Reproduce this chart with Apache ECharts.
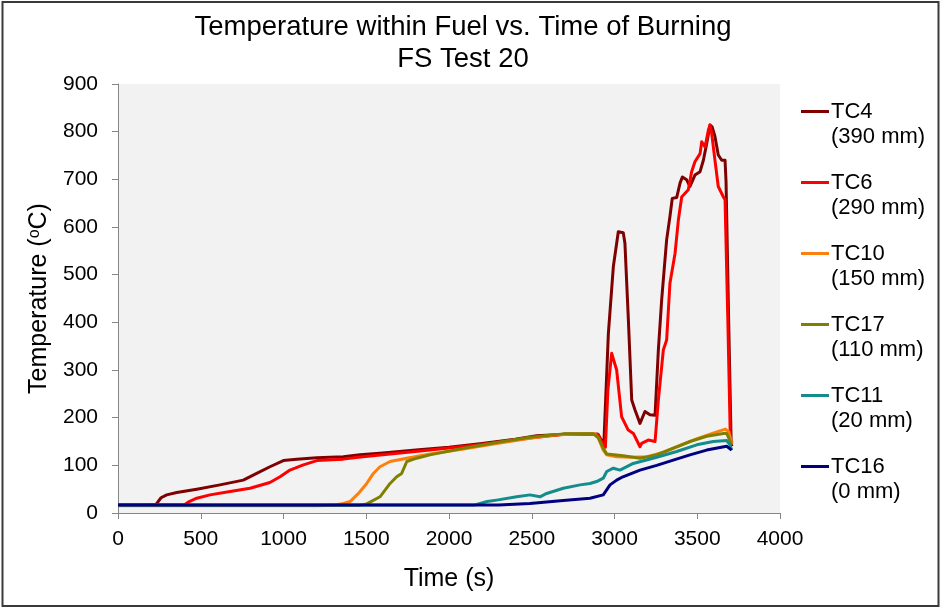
<!DOCTYPE html>
<html>
<head>
<meta charset="utf-8">
<script src="https://cdn.jsdelivr.net/npm/echarts@6/dist/echarts.min.js"></script>
<style>
  html, body { margin: 0; padding: 0; background: #fff; }
  #chart { width: 941px; height: 608px; }
</style>
</head>
<body>
<div id="chart"></div>
<script>
// Thermocouple readings: [time (s), temperature (°C)]
const tc4 = [[0,17],[150,17],[230,18],[260,32],[294,38],[355,43],[476,50],[616,59],[757,69],[838,83],[918,97],[999,110],[1080,113],[1201,116],[1361,118],[1462,122],[1600,126],[1800,132],[2000,138],[2200,146],[2400,155],[2530,162],[2700,165],[2900,165],[2925,150],[2935,140],[2963,377],[2993,517],[3023,590],[3053,588],[3063,566],[3083,412],[3104,237],[3124,216],[3154,188],[3184,213],[3214,206],[3245,205],[3265,342],[3285,447],[3315,573],[3335,622],[3349,660],[3376,662],[3396,692],[3410,705],[3436,699],[3456,685],[3486,709],[3517,716],[3537,740],[3557,775],[3577,814],[3590,810],[3607,790],[3627,751],[3648,740],[3668,740],[3674,695],[3690,400],[3705,145],[3710,140]];
const tc6 = [[0,17],[400,17],[430,24],[476,31],[556,38],[677,45],[798,52],[918,64],[979,76],[1039,90],[1120,101],[1201,110],[1361,113],[1452,117],[1600,122],[1885,132],[2100,140],[2288,148],[2500,158],[2700,165],[2900,165],[2930,145],[2945,138],[2960,258],[2983,335],[3013,300],[3043,202],[3083,174],[3114,167],[3154,139],[3164,146],[3204,153],[3245,150],[3265,237],[3295,342],[3315,363],[3335,482],[3366,545],[3386,615],[3406,663],[3446,678],[3466,716],[3486,737],[3517,754],[3527,779],[3547,768],[3567,803],[3577,814],[3587,797],[3607,740],[3627,685],[3658,663],[3668,657],[3685,400],[3700,155],[3710,148]];
const tc10 = [[0,15],[1200,15],[1300,16],[1361,20],[1402,24],[1450,40],[1503,62],[1543,83],[1583,97],[1644,108],[1745,115],[1885,124],[2087,134],[2288,146],[2489,157],[2650,164],[2880,166],[2902,158],[2932,132],[2953,122],[3013,118],[3100,117],[3200,118],[3300,128],[3400,142],[3500,156],[3600,168],[3670,176],[3690,170],[3710,145]];
const tc17 = [[0,16],[1450,16],[1503,19],[1583,34],[1644,62],[1684,76],[1714,83],[1745,108],[1805,115],[1885,122],[2087,136],[2288,148],[2489,159],[2691,166],[2872,166],[2902,158],[2932,136],[2953,124],[3053,120],[3154,115],[3255,122],[3355,136],[3456,150],[3557,161],[3658,167],[3678,167],[3708,143]];
const tc11 = [[0,17],[2150,17],[2167,18],[2230,24],[2288,27],[2409,34],[2489,38],[2550,34],[2590,41],[2691,52],[2792,59],[2852,62],[2892,66],[2932,73],[2953,87],[2993,94],[3033,90],[3113,104],[3255,117],[3376,129],[3497,143],[3597,150],[3678,152],[3698,143],[3708,132]];
const tc16 = [[0,17],[2300,17],[2489,20],[2690,26],[2852,31],[2932,38],[2973,59],[3013,69],[3051,76],[3154,90],[3255,100],[3355,111],[3456,122],[3557,132],[3678,140],[3708,132]];

const seriesNames = ['TC4', 'TC6', 'TC10', 'TC17', 'TC11', 'TC16'];
const depths = ['(390 mm)', '(290 mm)', '(150 mm)', '(110 mm)', '(20 mm)', '(0 mm)'];
const seriesData = [tc4, tc6, tc10, tc17, tc11, tc16];
const colors = ['#7f0000', '#ff0000', '#ff7f0e', '#808000', '#138c8c', '#000080'];

const titleLines = ['Temperature within Fuel vs. Time of Burning', 'FS Test 20'];
const xTitle = 'Time (s)';

const FONT = '"Liberation Sans", Arial, sans-serif';

const chart = echarts.init(document.getElementById('chart'), null, { renderer: 'canvas' });

chart.setOption({
  animation: false,
  backgroundColor: '#ffffff',
  color: colors,
  title: {
    text: titleLines.join('\n'),
    left: 458,
    textAlign: 'center',
    top: 6,
    textStyle: { fontFamily: FONT, fontSize: 27.5, fontWeight: 'normal', color: '#000', lineHeight: 32 }
  },
  grid: {
    left: 118, top: 84, right: 161, bottom: 95,
    show: true, backgroundColor: '#f2f2f2', borderWidth: 0
  },
  legend: {
    orient: 'vertical',
    left: 801,
    top: 74,
    padding: 0,
    itemGap: -4,
    itemWidth: 28,
    itemHeight: 3,
    icon: 'rect',
    data: seriesNames,
    formatter: function (name) {
      return ' \n' + name + '\n' + depths[seriesNames.indexOf(name)];
    },
    textStyle: { fontFamily: FONT, fontSize: 22, color: '#000', lineHeight: 25, padding: [0, 0, 0, -3] }
  },
  xAxis: {
    type: 'value',
    min: 0, max: 4000, interval: 500,
    name: xTitle,
    nameLocation: 'middle',
    nameGap: 54,
    nameTextStyle: { fontFamily: FONT, fontSize: 25, color: '#000' },
    axisLine: { show: true, onZero: false, lineStyle: { color: '#868686', width: 1 } },
    axisTick: { show: true, length: 6, lineStyle: { color: '#868686' } },
    axisLabel: { fontFamily: FONT, fontSize: 21, color: '#000', margin: 16, formatter: function (v) { return String(v); } },
    splitLine: { show: false }
  },
  yAxis: {
    type: 'value',
    min: 0, max: 900, interval: 100,
    name: 'Temperature ({sup|o}C)',
    nameLocation: 'middle',
    nameGap: 65,
    nameTextStyle: {
      fontFamily: FONT, fontSize: 25, color: '#000',
      rich: { sup: { fontFamily: FONT, fontSize: 16, verticalAlign: 'top', padding: [0, 0, 10, 0], color: '#000' } }
    },
    axisLine: { show: true, lineStyle: { color: '#868686', width: 1 } },
    axisTick: { show: true, length: 6, lineStyle: { color: '#868686' } },
    axisLabel: { fontFamily: FONT, fontSize: 21, color: '#000', margin: 20 },
    splitLine: { show: false }
  },
  graphic: [{
    type: 'rect',
    shape: { x: 2.5, y: 2, width: 936, height: 604 },
    style: { fill: 'none', stroke: '#3a3a3a', lineWidth: 2 },
    silent: true
  }],
  series: seriesNames.map(function (name, i) {
    return {
      name: name,
      type: 'line',
      data: seriesData[i],
      showSymbol: false,
      symbol: 'none',
      lineStyle: { width: 3, color: colors[i], join: 'round' },
      itemStyle: { color: colors[i] }
    };
  })
});
</script>
</body>
</html>
